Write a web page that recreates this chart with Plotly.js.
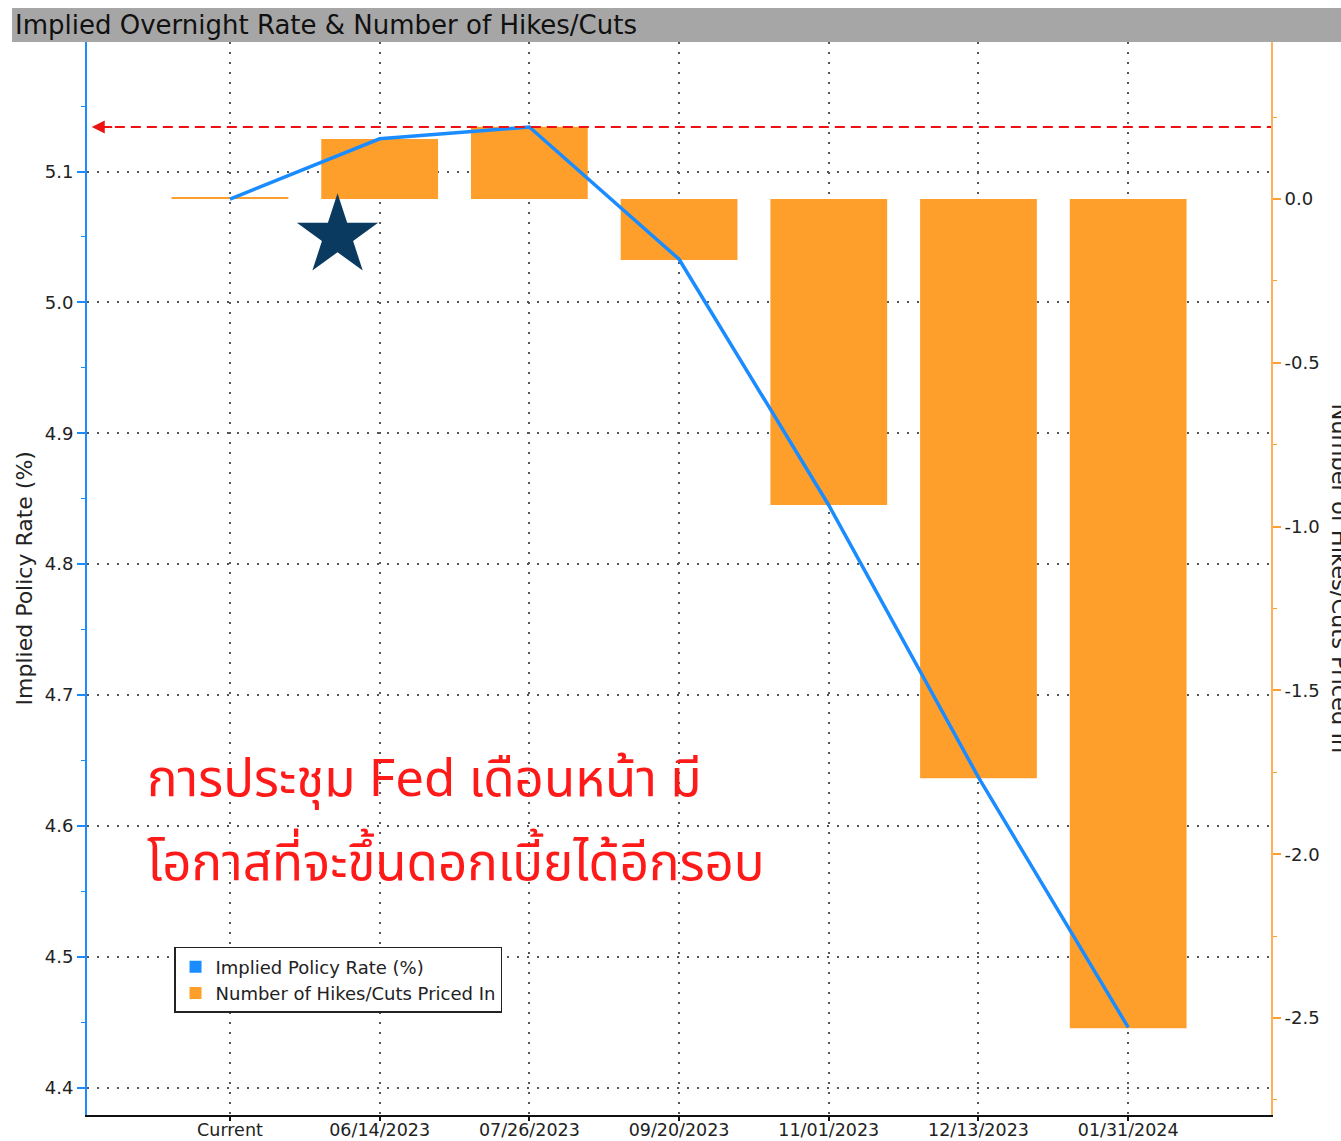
<!DOCTYPE html>
<html>
<head>
<meta charset="utf-8">
<script src="https://cdn.plot.ly/plotly-3.0.1.min.js"></script>
<style>
html,body{margin:0;padding:0;background:#fff;}
#chart{width:1341px;height:1141px;}
</style>
</head>
<body>
<div id="chart"></div>
<script>
// ---- data ----
const categories = ["Current", "06/14/2023", "07/26/2023", "09/20/2023", "11/01/2023", "12/13/2023", "01/31/2024"];
const impliedRate = [5.079, 5.125, 5.134, 5.033, 4.845, 4.637, 4.446];
const hikesCuts = [0.004, 0.183, 0.220, -0.186, -0.934, -1.768, -2.531];
const rateTicks = [4.4, 4.5, 4.6, 4.7, 4.8, 4.9, 5.0, 5.1];
const hikeTickVals = [0, -0.5, -1.0, -1.5, -2.0, -2.5];
const hikeTickText = ["0.0", "-0.5", "-1.0", "-1.5", "-2.0", "-2.5"];
const titleText = "Implied Overnight Rate & Number of Hikes/Cuts";
const leftTitle = "Implied Policy Rate (%)";
const rightTitle = "Number of Hikes/Cuts Priced In";
const noteLine1 = "การประชุม Fed เดือนหน้า มี";
const noteLine2 = "โอกาสที่จะขึ้นดอกเบี้ยได้อีกรอบ";

const BLUE = "#1a8cff";
const ORANGE = "#ff9f2b";
const FONT = "DejaVu Sans, sans-serif";
const THAI = "Noto Sans Thai, Noto Sans, sans-serif";
const xIdx = categories.map((c, i) => i);
const maxRate = Math.max(...impliedRate);

const traces = [
  { type: "bar", x: [null], y: [null], name: leftTitle, marker: { color: BLUE }, yaxis: "y", hoverinfo: "skip" },
  { type: "bar", x: xIdx, y: hikesCuts, name: rightTitle, width: 0.78, marker: { color: ORANGE }, yaxis: "y" },
  { type: "scatter", mode: "lines", x: xIdx, y: impliedRate, name: leftTitle, showlegend: false,
    line: { color: BLUE, width: 3.5 }, yaxis: "y2" }
];

const layout = {
  width: 1341, height: 1141,
  margin: { l: 87, r: 70, t: 42, b: 26 },
  paper_bgcolor: "#fff", plot_bgcolor: "#fff",
  barmode: "overlay",
  font: { family: FONT, size: 17, color: "#222" },
  showlegend: true,
  legend: {
    x: 0.0735, y: 0.1566, xanchor: "left", yanchor: "top",
    bgcolor: "#fff", bordercolor: "#222", borderwidth: 1.5,
    font: { family: FONT, size: 18, color: "#222" },
    traceorder: "normal", tracegroupgap: 0, itemwidth: 30
  },
  xaxis: {
    range: [-0.955, 6.954], tickvals: xIdx, ticktext: categories,
    showgrid: true, gridcolor: "#555", griddash: "2px,8px", gridwidth: 1.5,
    showline: true, linecolor: "#111", linewidth: 2,
    ticks: "outside", ticklen: 4, tickcolor: "#111", tickwidth: 2,
    ticklabelstandoff: -6,
    zeroline: false, tickfont: { family: FONT, size: 17.5, color: "#222" }
  },
  yaxis: {
    range: [-2.796, 0.479], side: "right",
    tickvals: hikeTickVals, ticktext: hikeTickText,
    showgrid: false, zeroline: false,
    showline: true, linecolor: "#ffb05a", linewidth: 2,
    ticks: "outside", ticklen: 8, tickcolor: ORANGE, tickwidth: 2,
    minor: { dtick: 0.25, ticks: "outside", ticklen: 4, tickcolor: ORANGE, tickwidth: 1 },
    tickfont: { family: FONT, size: 18, color: "#222" }
  },
  yaxis2: {
    range: [4.379, 5.199], overlaying: "y", side: "left",
    tickvals: rateTicks, tickformat: ".1f",
    showgrid: true, gridcolor: "#555", griddash: "2px,8px", gridwidth: 1.5,
    zeroline: false,
    showline: true, linecolor: BLUE, linewidth: 2,
    ticks: "outside", ticklen: 8, tickcolor: BLUE, tickwidth: 2,
    minor: { dtick: 0.05, ticks: "outside", ticklen: 4, tickcolor: BLUE, tickwidth: 1 },
    tickfont: { family: FONT, size: 18, color: "#222" }
  },
  shapes: [
    { type: "rect", xref: "paper", yref: "paper", x0: -0.0633, x1: 1.06, y0: 1.0, y1: 1.0317,
      fillcolor: "#a6a6a6", line: { width: 0 }, layer: "below" },
    { type: "line", xref: "paper", yref: "y2", x0: 0.01, x1: 1.0, y0: maxRate, y1: maxRate,
      line: { color: "#ee1111", width: 2, dash: "10px,6px" } }
  ],
  annotations: [
    { text: titleText, xref: "paper", yref: "paper", x: -0.0625, y: 1.0158, xanchor: "left", yanchor: "middle",
      showarrow: false, font: { family: FONT, size: 26, color: "#111" } },
    { text: leftTitle, xref: "paper", yref: "paper", x: -0.0524, y: 0.5, textangle: -90,
      xanchor: "center", yanchor: "middle", showarrow: false, font: { family: FONT, size: 22, color: "#222" } },
    { text: rightTitle, xref: "paper", yref: "paper", x: 1.0583, y: 0.5, textangle: 90,
      xanchor: "center", yanchor: "middle", showarrow: false, font: { family: FONT, size: 22.5, color: "#222" } },
    { text: "", xref: "paper", yref: "y2", x: 0.004, y: maxRate, ax: 22, ay: 0, showarrow: true,
      arrowhead: 2, arrowsize: 1.3, arrowwidth: 2, arrowcolor: "#ee1111" },
    { text: "★", xref: "x", yref: "y2", x: 0.72, y: 5.053, showarrow: false,
      xanchor: "center", yanchor: "middle", font: { family: "DejaVu Sans", size: 106, color: "#0b3a60" } },
    { text: noteLine1, xref: "paper", yref: "paper", x: 0.049, y: 0.312, xanchor: "left", yanchor: "middle",
      showarrow: false, font: { family: THAI, size: 51, color: "#ff1a1a" } },
    { text: noteLine2, xref: "paper", yref: "paper", x: 0.049, y: 0.233, xanchor: "left", yanchor: "middle",
      showarrow: false, font: { family: THAI, size: 51, color: "#ff1a1a" } }
  ]
};

Plotly.newPlot("chart", traces, layout, { displayModeBar: false, responsive: false });
</script>
</body>
</html>
